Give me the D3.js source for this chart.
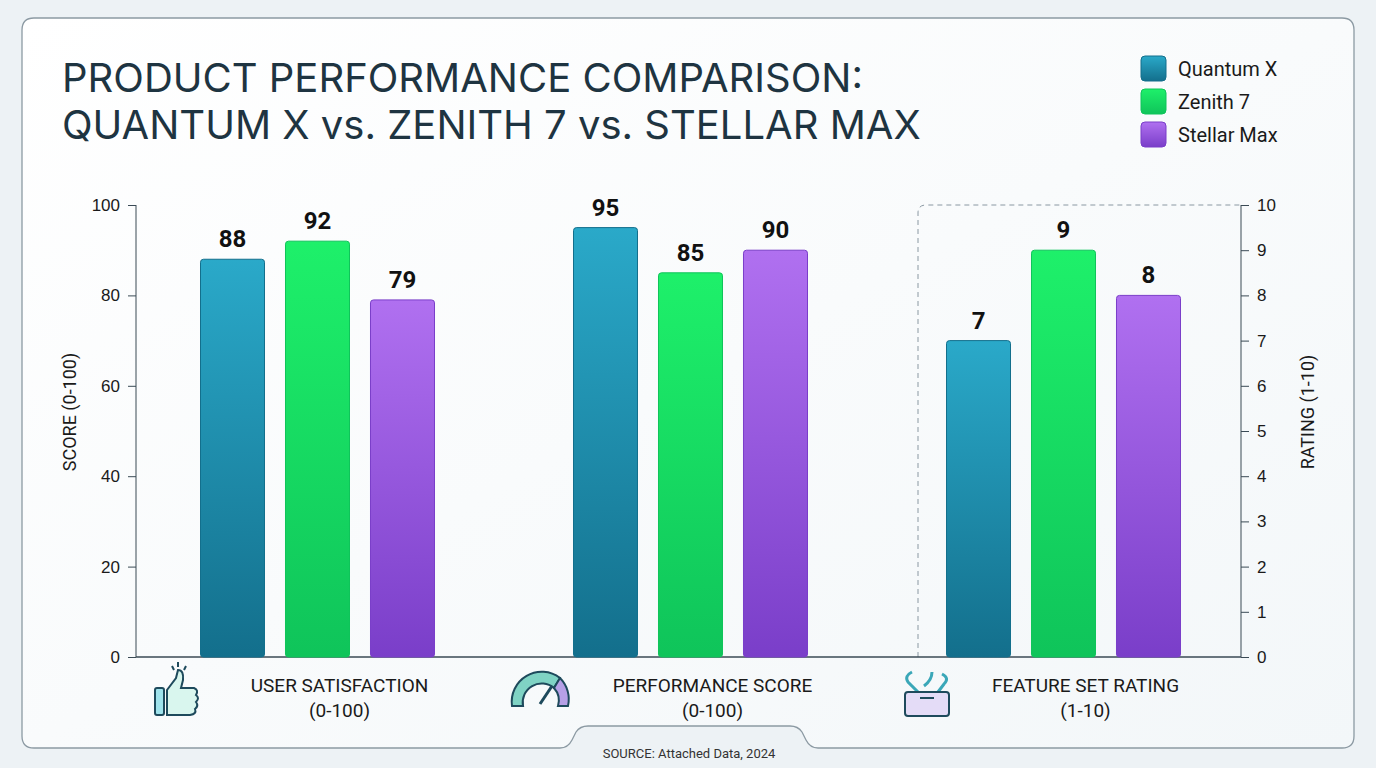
<!DOCTYPE html>
<html>
<head>
<meta charset="utf-8">
<script src="https://cdn.jsdelivr.net/npm/d3@7"></script>
<style>
body { margin: 0; background: #eef3f6; }
svg { display: block; font-family: Roboto, "Noto Sans", sans-serif; }
</style>
</head>
<body>
<div id="chart"></div>
<script>
// Chart data
var categories = ["USER SATISFACTION", "PERFORMANCE SCORE", "FEATURE SET RATING"];
var categoryUnits = ["(0-100)", "(0-100)", "(1-10)"];
var series = ["Quantum X", "Zenith 7", "Stellar Max"];
var quantumX = [88, 95, 7];
var zenith7 = [92, 85, 9];
var stellarMax = [79, 90, 8];
var leftTicks = [0, 20, 40, 60, 80, 100];
var rightTicks = [0, 1, 2, 3, 4, 5, 6, 7, 8, 9, 10];

var svgWidth = 1376, svgHeight = 768;
var plot = { left: 136, right: 1241, top: 205, bottom: 657 };
var colors = [["#2aa9c9", "#136f8c"], ["#1ef06a", "#0fc45a"], ["#b070f0", "#7a3ec9"]];
var valuesBySeries = [quantumX, zenith7, stellarMax];

var svg = d3.select("#chart").append("svg")
    .attr("width", svgWidth).attr("height", svgHeight);

var defs = svg.append("defs");
colors.forEach(function(c, i) {
  var g = defs.append("linearGradient").attr("id", "grad" + i)
      .attr("x1", 0).attr("y1", 0).attr("x2", 0).attr("y2", 1);
  g.append("stop").attr("offset", "0%").attr("stop-color", c[0]);
  g.append("stop").attr("offset", "100%").attr("stop-color", c[1]);
});
var bg = defs.append("linearGradient").attr("id", "bg").attr("x1", 0).attr("y1", 0).attr("x2", 1).attr("y2", 1);
bg.append("stop").attr("offset", "0%").attr("stop-color", "#ffffff");
bg.append("stop").attr("offset", "100%").attr("stop-color", "#f3f7f9");

// Background + card with a notch for the source
svg.append("rect").attr("width", svgWidth).attr("height", svgHeight).attr("fill", "#edf2f5");
svg.append("path")
    .attr("d", "M34,18 H1342 Q1354,18 1354,30 V736 Q1354,748 1342,748 H818 Q810,748 806,740 L802,732 Q798,726 790,726 H588 Q580,726 576,732 L572,740 Q568,748 560,748 H34 Q22,748 22,736 V30 Q22,18 34,18 Z")
    .attr("fill", "url(#bg)").attr("stroke", "#8c9aa3").attr("stroke-width", 1.3);

// Title
var title = svg.append("text").attr("x", 62).attr("fill", "#1e3441")
    .style("font-family", "Inter, Lato, sans-serif").style("font-size", "40px");
title.append("tspan").attr("x", 62).attr("y", 92).text("PRODUCT PERFORMANCE COMPARISON:");
title.append("tspan").attr("x", 62).attr("y", 139).text("QUANTUM X vs. ZENITH 7 vs. STELLAR MAX");

// Legend
var legend = svg.append("g").attr("transform", "translate(1141,56)");
series.forEach(function(s, i) {
  var row = legend.append("g").attr("transform", "translate(0," + (i * 33) + ")");
  row.append("rect").attr("width", 25).attr("height", 25).attr("rx", 4)
      .attr("fill", "url(#grad" + i + ")").attr("stroke", colors[i][1]);
  row.append("text").attr("x", 37).attr("y", 20).attr("fill", "#1a1a1a")
      .style("font-size", "20px").text(s);
});

// Scales
var x0 = d3.scaleBand().domain(categories).range([131, 1250]);
var x1 = d3.scaleBand().domain(series).range([-117, 117]).paddingInner(0.247);
var yLeft = d3.scaleLinear().domain([0, 100]).range([plot.bottom, plot.top]);
var yRight = d3.scaleLinear().domain([0, 10]).range([plot.bottom, plot.top]);

// Dashed box around third group
svg.append("path")
    .attr("d", "M" + 918 + "," + plot.bottom + " V" + (plot.top + 8) + " Q918," + plot.top + " 926," + plot.top + " H" + plot.right)
    .attr("fill", "none").attr("stroke", "#8a98a2").attr("stroke-dasharray", "5,4");

// Axes
var leftAxis = svg.append("g").attr("transform", "translate(" + plot.left + ",0)")
    .call(d3.axisLeft(yLeft).tickValues(leftTicks).tickSize(8).tickPadding(8));
var rightAxis = svg.append("g").attr("transform", "translate(" + plot.right + ",0)")
    .call(d3.axisRight(yRight).tickValues(rightTicks).tickSize(8).tickPadding(8));
[leftAxis, rightAxis].forEach(function(a) {
  a.selectAll("path, line").attr("stroke", "#3a4a55");
  a.selectAll("text").attr("fill", "#1a1a1a").style("font-size", "17px");
  a.select(".domain").attr("d", null);
});
leftAxis.append("line").attr("y1", plot.top).attr("y2", plot.bottom).attr("stroke", "#3a4a55");
rightAxis.append("line").attr("y1", plot.top).attr("y2", plot.bottom).attr("stroke", "#3a4a55");
svg.append("line").attr("x1", plot.left).attr("x2", plot.right)
    .attr("y1", plot.bottom).attr("y2", plot.bottom).attr("stroke", "#3a4a55").attr("stroke-width", 1.5);

svg.append("text").attr("transform", "translate(76,412) rotate(-90)")
    .attr("text-anchor", "middle").style("font-size", "18px").attr("fill", "#1a1a1a").text("SCORE (0-100)");
svg.append("text").attr("transform", "translate(1314,412) rotate(-90)")
    .attr("text-anchor", "middle").style("font-size", "18px").attr("fill", "#1a1a1a").text("RATING (1-10)");

// Bars
categories.forEach(function(cat, ci) {
  var y = ci === 2 ? yRight : yLeft;
  var g = svg.append("g").attr("transform", "translate(" + (x0(cat) + x0.bandwidth() / 2) + ",0)");
  series.forEach(function(s, si) {
    var v = valuesBySeries[si][ci];
    g.append("rect")
        .attr("x", x1(s)).attr("y", y(v))
        .attr("width", x1.bandwidth()).attr("height", plot.bottom - y(v))
        .attr("rx", 3)
        .attr("fill", "url(#grad" + si + ")").attr("stroke", colors[si][1]).attr("stroke-width", 1);
    g.append("text")
        .attr("x", x1(s) + x1.bandwidth() / 2).attr("y", y(v) - 12)
        .attr("text-anchor", "middle").attr("fill", "#111")
        .style("font-size", "24px").style("font-weight", "bold").text(v);
  });
  // Category labels
  var cx = x0(cat) + x0.bandwidth() / 2 + 22;
  var lab = svg.append("text").attr("text-anchor", "middle").attr("fill", "#1a1a1a").style("font-size", "19px");
  lab.append("tspan").attr("x", cx).attr("y", 692).text(cat);
  lab.append("tspan").attr("x", cx).attr("y", 717).text(categoryUnits[ci]);
});

// Icons
var ic = "#1e4a5c";
var thumb = svg.append("g").attr("transform", "translate(154,668)").attr("fill", "#9fe3ec").attr("stroke", ic).attr("stroke-width", 2);
thumb.append("rect").attr("x", 1).attr("y", 20).attr("width", 9).attr("height", 27).attr("rx", 2);
thumb.append("path").attr("d", "M13,22 L22,10 L24,2 Q30,2 29,12 L27,20 H40 Q45,22 42,27 Q46,30 42,34 Q45,38 41,41 Q43,46 36,47 H13 Z").attr("fill", "#d9f6ee");
thumb.append("path").attr("d", "M24,-6 V-1 M32,-2 L30,2 M18,-2 L20,2").attr("fill", "none");
var gauge = svg.append("g").attr("transform", "translate(510,672)").attr("stroke", ic).attr("stroke-width", 2);
gauge.append("path").attr("d", "M2,34 A30,30 0 0 1 50,6 L44,16 A19,19 0 0 0 13,34 Z").attr("fill", "#7fd3c4");
gauge.append("path").attr("d", "M50,6 A30,30 0 0 1 58,34 H48 A19,19 0 0 0 44,16 Z").attr("fill", "#b6a0e6");
gauge.append("line").attr("x1", 30).attr("y1", 32).attr("x2", 42).attr("y2", 14).attr("stroke-width", 3);
var tools = svg.append("g").attr("transform", "translate(902,670)").attr("stroke", ic).attr("stroke-width", 2);
tools.append("path").attr("d", "M10,2 Q2,6 6,12 L16,22 M30,2 Q30,10 22,16 M40,4 Q48,8 42,14 L36,22").attr("fill", "none").attr("stroke-width", 3).attr("stroke", "#3aa7b8");
tools.append("rect").attr("x", 3).attr("y", 22).attr("width", 44).attr("height", 24).attr("rx", 3).attr("fill", "#e4dcf7");
tools.append("line").attr("x1", 18).attr("x2", 32).attr("y1", 28).attr("y2", 28);

// Source
svg.append("text").attr("x", 689).attr("y", 758).attr("text-anchor", "middle")
    .attr("fill", "#333").style("font-size", "13px").text("SOURCE: Attached Data, 2024");
</script>
</body>
</html>
